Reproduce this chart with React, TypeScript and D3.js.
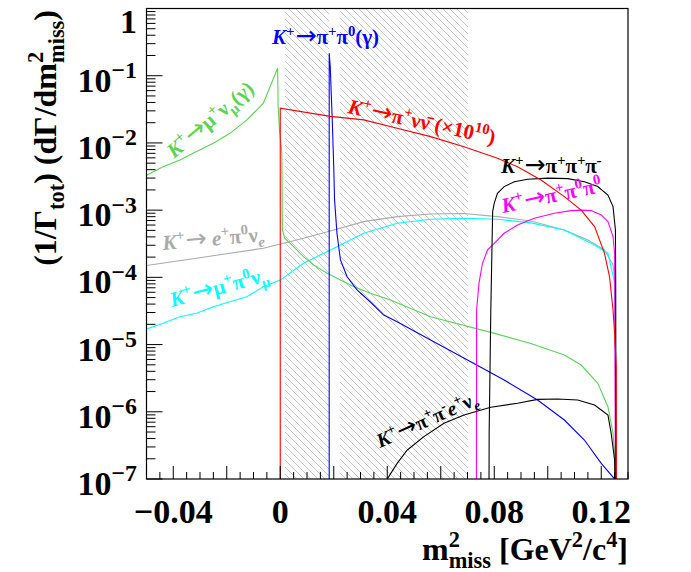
import { scaleLinear, scaleLog, line as d3Line, range } from "d3";

// m2miss [GeV^2/c^4], (1/Gamma) dGamma/dm2miss
const kmu2 = [
  [-0.05, 3.3e-3], [-0.0438, 4.43e-3], [-0.0375, 5.58e-3], [-0.0313, 7.43e-3],
  [-0.025, 9.9e-3], [-0.0188, 0.0139], [-0.0125, 0.022], [-0.0063, 0.039],
  [-0.001, 0.129], [-0.0008, 0.036], [-0.0003, 0.0156], [0.0006, 0.0071],
  [0.0008, 5.1e-4], [0.0016, 3.85e-4], [0.005, 2.86e-4], [0.0087, 2.03e-4],
  [0.0125, 1.53e-4], [0.0175, 1.15e-4], [0.0275, 7.28e-5], [0.0337, 5.8e-5],
  [0.0412, 4.6e-5], [0.0562, 2.6e-5], [0.0787, 1.52e-5], [0.0937, 1.04e-5],
  [0.1062, 7.0e-6], [0.1125, 4.96e-6], [0.1187, 2.65e-6], [0.1225, 1.19e-6],
  [0.1244, 4.8e-7], [0.1256, 1.2e-7], [0.1258, 1e-9],
];
const pinunu = [
  [0.0, 1e-9], [0.0, 0.0328], [0.0187, 0.0248], [0.0312, 0.022], [0.0437, 0.01656],
  [0.0562, 0.0124], [0.0687, 8.8e-3], [0.0812, 5.9e-3], [0.0887, 4.43e-3],
  [0.0975, 2.81e-3], [0.1062, 1.59e-3], [0.1125, 1.0e-3], [0.1175, 5.7e-4],
  [0.1212, 2.29e-4], [0.1231, 1.02e-4], [0.1244, 3.27e-5], [0.125, 1.49e-5],
  [0.1256, 4.7e-6], [0.1257, 1e-9],
];
const pipi0 = [
  [0.0183, 1e-9], [0.0183, 0.216], [0.0187, 0.136], [0.0191, 0.0489], [0.0194, 0.0246],
  [0.02, 4.43e-3], [0.0203, 1.42e-3], [0.0212, 4.53e-4], [0.0225, 1.82e-4],
  [0.025, 1.02e-4], [0.0287, 6.5e-5], [0.0337, 4.3e-5], [0.0387, 2.75e-5],
  [0.0437, 2.19e-5], [0.0562, 1.17e-5], [0.0712, 5.57e-6], [0.0837, 2.97e-6],
  [0.0962, 1.5e-6], [0.1062, 7.55e-7], [0.1137, 3.8e-7], [0.12, 1.71e-7],
  [0.125, 1e-7], [0.1255, 1e-9],
];
const ke3 = [
  [-0.05, 1.5e-4], [-0.0313, 1.92e-4], [-0.0188, 2.29e-4], [-0.0063, 2.71e-4],
  [0.0087, 3.82e-4], [0.0187, 4.88e-4], [0.0312, 6.75e-4], [0.0437, 8.0e-4],
  [0.0562, 8.77e-4], [0.0687, 8.9e-4], [0.0812, 8.0e-4], [0.0937, 6.9e-4],
  [0.1062, 5.07e-4], [0.115, 3.6e-4], [0.1212, 2.56e-4], [0.1244, 1.53e-4],
  [0.1252, 8.2e-5], [0.1254, 1e-9],
];
const kmu3 = [
  [-0.05, 1.7e-5], [-0.0438, 2.07e-5], [-0.0375, 2.6e-5], [-0.0313, 2.92e-5],
  [-0.025, 3.66e-5], [-0.0188, 4.35e-5], [-0.0125, 5.16e-5], [-0.0063, 7.28e-5],
  [0.0, 9.1e-5], [0.0087, 1.62e-4], [0.0212, 2.86e-4], [0.0312, 4.53e-4],
  [0.0437, 6.38e-4], [0.0562, 7.33e-4], [0.0687, 7.57e-4], [0.0812, 7.33e-4],
  [0.0937, 6.46e-4], [0.1062, 5.07e-4], [0.1175, 3.03e-4], [0.1225, 2.29e-4],
  [0.125, 8.3e-5], [0.1253, 1.31e-5], [0.1256, 1e-9],
];
const k3pi = [
  [0.0779, 1e-9], [0.0781, 5e-7], [0.0787, 3e-5], [0.0794, 9.5e-4], [0.08, 1.27e-3],
  [0.0812, 1.78e-3], [0.0837, 2.24e-3], [0.0875, 2.65e-3], [0.0925, 2.88e-3],
  [0.1, 2.99e-3], [0.1075, 2.94e-3], [0.1137, 2.65e-3], [0.1187, 2.24e-3],
  [0.1225, 1.68e-3], [0.1244, 1.13e-3], [0.1253, 5.07e-4], [0.1254, 8.3e-5],
  [0.1256, 1e-9],
];
const k3pi0 = [
  [0.0733, 1e-9], [0.0734, 3.27e-5], [0.0743, 8.2e-5], [0.0756, 1.62e-4],
  [0.0775, 2.56e-4], [0.08, 3.21e-4], [0.0837, 4.53e-4], [0.0887, 6.03e-4],
  [0.095, 7.57e-4], [0.1025, 9.0e-4], [0.1087, 9.84e-4], [0.1125, 1.0e-3],
  [0.1162, 9.84e-4], [0.12, 8.5e-4], [0.1225, 6.75e-4], [0.1244, 4.04e-4],
  [0.125, 2.29e-4], [0.1255, 1e-9],
];
const ke4 = [
  [0.038, 5e-8], [0.04, 1e-7], [0.0437, 1.71e-7], [0.0475, 2.7e-7], [0.0537, 4.27e-7],
  [0.0612, 6.75e-7], [0.0687, 8.95e-7], [0.0787, 1.17e-6], [0.0887, 1.34e-6],
  [0.0962, 1.53e-6], [0.1037, 1.55e-6], [0.1112, 1.5e-6], [0.1175, 1.26e-6],
  [0.1225, 8.95e-7], [0.1237, 4.8e-7], [0.125, 1.92e-7], [0.1256, 1e-9],
];

// signal regions (hatched)
const regions = [
  [0.0018, 0.0183],
  [0.0223, 0.0702],
];

const xLabels = [-0.04, 0, 0.04, 0.08, 0.12];
const yDecades = [-7, -6, -5, -4, -3, -2, -1, 0];

const SERIF = "'Liberation Serif', 'DejaVu Serif', serif";
const frame = { left: 146.5, right: 628, top: 8.5, bottom: 479 };

const x = scaleLinear().domain([-0.05, 0.13]).range([frame.left, frame.right]);
const y = scaleLog().domain([1e-7, 1]).range([frame.bottom, frame.top]);

const line = d3Line<number[]>()
  .x((d) => x(d[0]))
  .y((d) => y(Math.max(d[1], 1e-9)));

type Run = { t: string; lvl: number; back: number };

// tiny ROOT-like latex: ^{..} and _{..}
function parseRich(s: string): Run[] {
  const out: Run[] = [];
  let buf = "";
  let i = 0;
  const flush = () => {
    if (buf) out.push({ t: buf, lvl: 0, back: 0 });
    buf = "";
  };
  while (i < s.length) {
    const c = s[i];
    if ((c === "^" || c === "_") && s[i + 1] === "{") {
      flush();
      const end = s.indexOf("}", i);
      const t = s.slice(i + 2, end);
      const prev = out[out.length - 1];
      const back = c === "_" && prev && prev.lvl === 1 ? prev.t.length : 0;
      out.push({ t, lvl: c === "^" ? 1 : -1, back });
      i = end + 1;
    } else {
      buf += c;
      i++;
    }
  }
  flush();
  return out;
}

const UPRIGHT = /[\u0370-\u03ff\u0300-\u036f\u00d7()\d]/;

function Rich({
  s, px, py, size, fill = "#000", anchor = "start", angle = 0, italic = false,
}: {
  s: string; px: number; py: number; size: number; fill?: string;
  anchor?: string; angle?: number; italic?: boolean;
}) {
  const runs = parseRich(s);
  let cur = 0;
  const spans: any[] = [];
  runs.forEach((r, ri) => {
    const fs = r.lvl === 0 ? size : size * 0.7;
    const off = r.lvl === 1 ? -0.4 * size : r.lvl === -1 ? 0.26 * size : 0;
    const pieces: { t: string; k: string }[] = [];
    for (const ch of Array.from(r.t)) {
      const k = ch === "→" ? "arrow" : !italic || UPRIGHT.test(ch) ? "up" : "it";
      const last = pieces[pieces.length - 1];
      if (last && k !== "arrow" && (last.k === k || /\u0304/.test(ch))) last.t += ch;
      else pieces.push({ t: ch, k });
    }
    pieces.forEach((p, pi) => {
      const first = pi === 0;
      const arrow = p.k === "arrow";
      spans.push(
        <tspan
          key={ri + "-" + pi}
          dy={first ? off - cur : 0}
          dx={first && r.back ? -r.back * 0.5 * fs : arrow ? 1 : 0}
          fontSize={arrow ? fs * 1.2 : fs}
          fontFamily={arrow ? "'DejaVu Sans', sans-serif" : undefined}
          fontWeight={arrow ? "normal" : undefined}
          fontStyle={p.k === "it" ? "italic" : "normal"}
        >
          {p.t}
        </tspan>
      );
    });
    cur = off;
  });
  return (
    <text
      x={px}
      y={py}
      fill={fill}
      textAnchor={anchor}
      fontFamily={SERIF}
      fontWeight="bold"
      fontSize={size}
      transform={angle ? `rotate(${angle},${px},${py})` : undefined}
      style={{ whiteSpace: "pre" }}
    >
      {spans}
    </text>
  );
}

const fmtX = (v: number) => (v === 0 ? "0" : (v < 0 ? "\u2212" : "") + Math.abs(v).toFixed(2));

export default function App() {
  const xTicks = range(-9, 27).map((i) => ({ v: i * 0.005, major: i % 4 === 0 }));
  const yMinor: number[] = [];
  yDecades.slice(0, -1).forEach((k) => {
    for (let m = 2; m <= 9; m++) yMinor.push(m * Math.pow(10, k));
  });

  const series: [number[][], string][] = [
    [ke3, "#aaaaaa"],
    [kmu3, "#00ffff"],
    [kmu2, "#59d454"],
    [pipi0, "#0000ff"],
    [k3pi0, "#ff00ff"],
    [k3pi, "#000000"],
    [ke4, "#000000"],
    [pinunu, "#ff0000"],
  ];

  return (
    <svg
      width={691}
      height={572}
      style={{ position: "absolute", left: 0, top: 0, display: "block", background: "#fff" }}
    >
      <defs>
        <clipPath id="plot">
          <rect
            x={frame.left}
            y={frame.top}
            width={frame.right - frame.left}
            height={frame.bottom - frame.top}
          />
        </clipPath>
        <pattern id="hatch" width={7} height={7} patternUnits="userSpaceOnUse">
          <path d="M0,0L7,7M-1,6L1,8M6,-1L8,1" stroke="#b4b4b4" strokeWidth={0.75} />
        </pattern>
      </defs>

      {regions.map(([a, b], i) => (
        <rect
          key={i}
          x={x(a)}
          y={frame.top}
          width={x(b) - x(a)}
          height={frame.bottom - frame.top}
          fill="url(#hatch)"
        />
      ))}

      <g clipPath="url(#plot)" fill="none" strokeWidth={1.1}>
        {series.map(([d, c], i) => (
          <path key={i} d={line(d)!} stroke={c} />
        ))}
      </g>

      {/* frame + ticks */}
      <rect
        x={frame.left}
        y={frame.top}
        width={frame.right - frame.left}
        height={frame.bottom - frame.top}
        fill="none"
        stroke="#000"
        strokeWidth={1.2}
      />
      <g stroke="#000" strokeWidth={1}>
        {xTicks.map((t, i) => (
          <line
            key={i}
            x1={x(t.v)}
            x2={x(t.v)}
            y1={frame.bottom}
            y2={frame.bottom - (t.major ? 13 : 7)}
          />
        ))}
        {yDecades.map((k) => (
          <line key={k} x1={frame.left} x2={frame.left + 16} y1={y(Math.pow(10, k))} y2={y(Math.pow(10, k))} />
        ))}
        {yMinor.map((v, i) => (
          <line key={"m" + i} x1={frame.left} x2={frame.left + 9} y1={y(v)} y2={y(v)} />
        ))}
      </g>

      {xLabels.map((v) => (
        <text
          key={v}
          x={x(v)}
          y={523}
          textAnchor="middle"
          fontFamily={SERIF}
          fontWeight="bold"
          fontSize={34}
        >
          {fmtX(v)}
        </text>
      ))}
      {yDecades.map((k) =>
        k === 0 ? (
          <Rich key={k} s="1" px={137} py={y(1) + 24} size={34} anchor="end" />
        ) : (
          <Rich key={k} s={`10^{\u2212${-k}}`} px={137} py={y(Math.pow(10, k)) + 16} size={34} anchor="end" />
        )
      )}

      <Rich s="m^{2}_{miss} [GeV^{2}/c^{4}]" px={628} py={560} size={32} anchor="end" />
      <Rich s="(1/Γ_{tot}) (dΓ/dm^{2}_{miss})" px={56} py={10} size={32} anchor="end" angle={-90} />

      {/* decay labels */}
      <Rich s="K^{+}→π^{+}π^{0}(γ)" px={272} py={44} size={21} fill="#0000ff" italic />
      <Rich s={"K^{+}→π^{+}νν\u0304 (×10^{10})"} px={347} py={113} size={21} fill="#ff0000" angle={12} italic />
      <Rich s="K^{+}→π^{+}π^{+}π^{-}" px={501} py={173} size={21} italic />
      <Rich s="K^{+}→π^{+}π^{0}π^{0}" px={503} py={213} size={21} fill="#ff00ff" angle={-12} italic />
      <Rich s="K^{+}→μ^{+}ν_{μ}(γ)" px={174} py={159} size={21} fill="#59d454" angle={-40} italic />
      <Rich s="K^{+}→ e^{+}π^{0}ν_{e}" px={163} py={250} size={21} fill="#aaaaaa" angle={-5} italic />
      <Rich s="K^{+}→μ^{+}π^{0}ν_{μ}" px={172} py={307} size={21} fill="#00ffff" angle={-15} italic />
      <Rich s="K^{+}→π^{+}π^{-}e^{+}ν_{e}" px={380} py={448} size={20} angle={-24} italic />
    </svg>
  );
}
